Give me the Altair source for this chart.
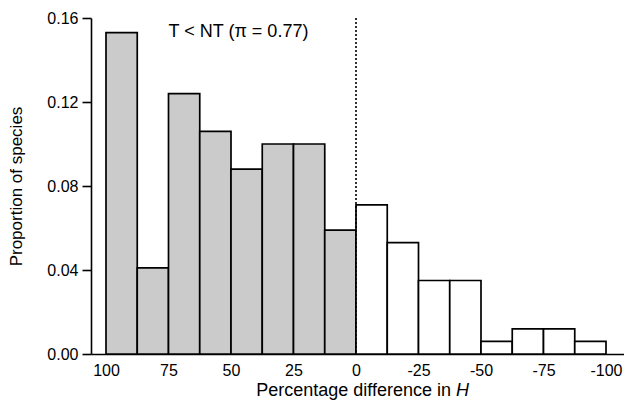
import altair as alt
import pandas as pd

# Histogram bins (percentage difference in H), upper and lower edges
bin_upper = [100, 87.5, 75, 62.5, 50, 37.5, 25, 12.5, 0, -12.5, -25, -37.5, -50, -62.5, -75, -87.5]
bin_lower = [87.5, 75, 62.5, 50, 37.5, 25, 12.5, 0, -12.5, -25, -37.5, -50, -62.5, -75, -87.5, -100]
proportion = [0.153, 0.041, 0.124, 0.106, 0.088, 0.100, 0.100, 0.059,
              0.071, 0.053, 0.035, 0.035, 0.006, 0.012, 0.012, 0.006]
group = ["T < NT"] * 8 + ["T > NT"] * 8

x_ticks = [100, 75, 50, 25, 0, -25, -50, -75, -100]
y_ticks = [0.00, 0.04, 0.08, 0.12, 0.16]

annotation_text = ["T < NT (\u03c0 = 0.77)"]
annotation_x = [47]
annotation_y = [0.1535]
zero_line = [0]

W, H = 533, 336
FONT = "Liberation Sans"

bars_df = pd.DataFrame({"upper": bin_upper, "lower": bin_lower,
                        "proportion": proportion, "group": group})
ann_df = pd.DataFrame({"text": annotation_text, "x": annotation_x, "y": annotation_y})
zero_df = pd.DataFrame({"x": zero_line})

x_scale = alt.Scale(domain=[-107.2, 106], reverse=True, nice=False, zero=False)
y_scale = alt.Scale(domain=[0, 0.16], nice=False)

bars = alt.Chart(bars_df).mark_rect(stroke="black", strokeWidth=1.7).encode(
    x=alt.X("upper:Q", scale=x_scale,
            axis=alt.Axis(values=x_ticks, labelExpr="'' + datum.value",
                          ticks=False, title=None,
                          labelPadding=8, labelFontSize=16, labelFont=FONT,
                          labelColor="black", domainColor="black", domainWidth=1.6,
                          grid=False, labelFlush=False)),
    x2="lower:Q",
    y=alt.Y("proportion:Q", scale=y_scale,
            axis=alt.Axis(values=y_ticks, format=".2f", tickSize=9, tickWidth=1.6,
                          tickColor="black", domainColor="black", domainWidth=1.6,
                          labelFontSize=16, labelFont=FONT, labelColor="black",
                          labelPadding=4, grid=False,
                          title="Proportion of species", titleFont=FONT,
                          titleFontSize=17, titleFontWeight="normal",
                          titleColor="black", titlePadding=21)),
    y2=alt.datum(0),
    fill=alt.Fill("group:N", scale=alt.Scale(domain=["T < NT", "T > NT"],
                                              range=["#cbcbcb", "#ffffff"]),
                  legend=None),
)

zero = alt.Chart(zero_df).mark_rule(color="black", strokeWidth=1.6,
                                    strokeDash=[2, 2]).encode(
    x=alt.X("x:Q", scale=x_scale)
)

ann = alt.Chart(ann_df).mark_text(font=FONT, fontSize=18, color="black",
                                  align="center", baseline="middle").encode(
    x=alt.X("x:Q", scale=x_scale),
    y=alt.Y("y:Q", scale=y_scale),
    text="text:N",
)

title_df = pd.DataFrame({"a": ["Percentage difference in"], "b": ["H"]})
title_main = alt.Chart(title_df).mark_text(font=FONT, fontSize=18, color="black",
                                           align="right", baseline="middle").encode(
    x=alt.value(360), y=alt.value(H + 37), text="a:N")
title_h = alt.Chart(title_df).mark_text(font=FONT, fontSize=18, color="black",
                                        fontStyle="italic", align="left",
                                        baseline="middle").encode(
    x=alt.value(365), y=alt.value(H + 37), text="b:N")

chart = alt.layer(bars, zero, ann, title_main, title_h).properties(
    width=W, height=H,
    autosize=alt.AutoSizeParams(type="none"),
    padding={"left": 83, "top": 10, "right": 0, "bottom": 50},
    background="white",
).configure_view(stroke=None)

chart.save("out.html", embed_options={"renderer": "svg", "actions": False})
